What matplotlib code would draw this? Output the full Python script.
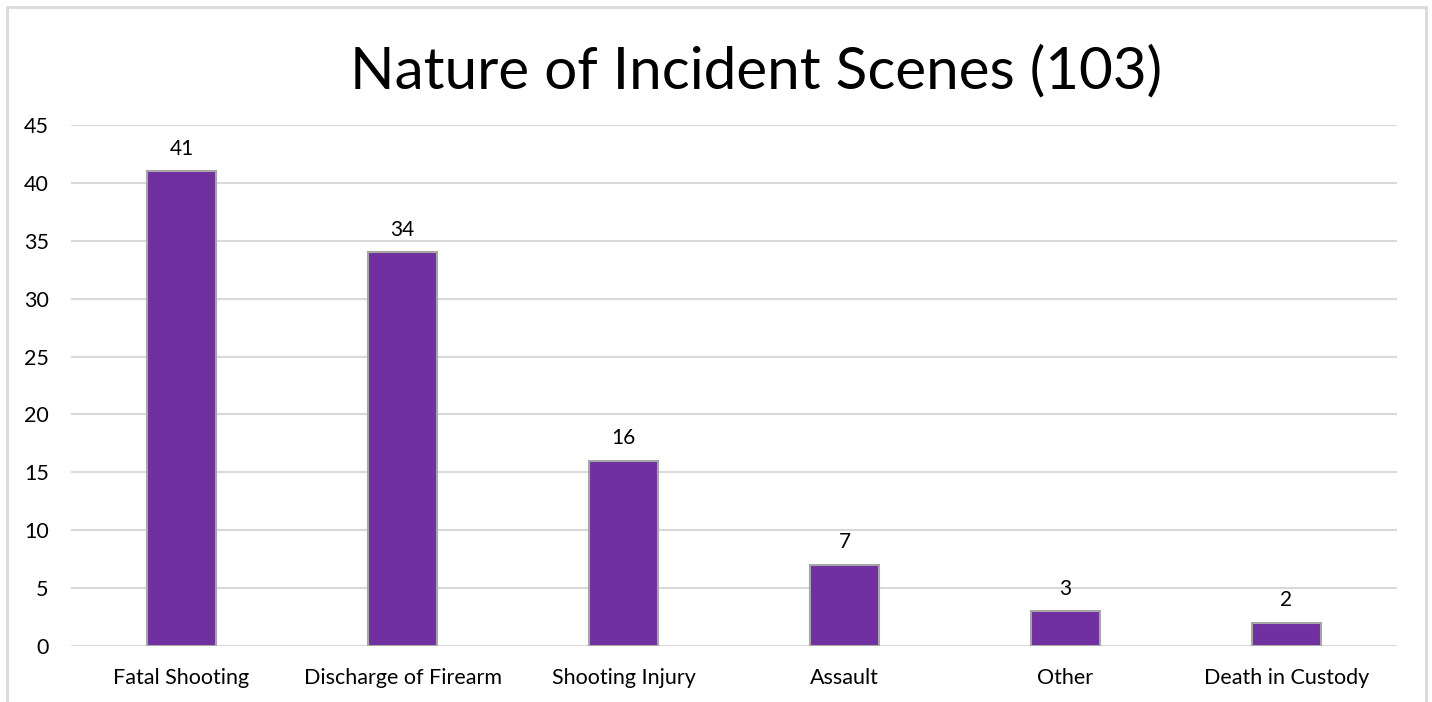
import matplotlib
matplotlib.use("Agg")
import matplotlib.pyplot as plt
from matplotlib.patches import Rectangle

categories = ["Fatal Shooting", "Discharge of Firearm", "Shooting Injury", "Assault", "Other", "Death in Custody"]
values = [41, 34, 16, 7, 3, 2]
yticks = [0, 5, 10, 15, 20, 25, 30, 35, 40, 45]
title = "Nature of Incident Scenes (103)"

W, H = 1432, 702
fig = plt.figure(figsize=(W / 100, H / 100), dpi=100)
ax = fig.add_axes([71 / W, 1 - 646 / H, (1397 - 71) / W, (646 - 125) / H])

x = list(range(len(categories)))
ax.bar(x, values, width=0.31, color="#7030A0", edgecolor="#A6A6A6", linewidth=1.5, zorder=3)
for xi, v in zip(x, values):
    ax.annotate(str(v), (xi, v), xytext=(0, 9), textcoords="offset points",
                ha="center", va="bottom", fontsize=15, family="Lato", color="#000000")

ax.set_xlim(-0.5, len(categories) - 0.5)
ax.set_ylim(0, 45)
ax.set_yticks(yticks)
ax.set_xticks(x)
ax.set_xticklabels(categories, family="Lato", fontsize=15.5)
ax.set_yticklabels([str(t) for t in yticks], family="Lato", fontsize=15.5)
ax.tick_params(axis="both", length=0)
ax.tick_params(axis="y", pad=16)
ax.tick_params(axis="x", pad=16)
ax.grid(axis="y", color="#D9D9D9", linewidth=1.5, zorder=0)
for s in ax.spines.values():
    s.set_visible(False)

fig.text(756 / W, 1 - 72 / H, title, ha="center", va="center", fontsize=42,
         family="Lato", fontweight="normal", color="#000000")

fig.patches.append(Rectangle((7 / W, -0.1), (1426 - 7) / W, 1 - 7 / H + 0.1,
                             transform=fig.transFigure, fill=False,
                             edgecolor="#D9D9D9", linewidth=2, zorder=0))

fig.savefig("out.png", dpi=100)
